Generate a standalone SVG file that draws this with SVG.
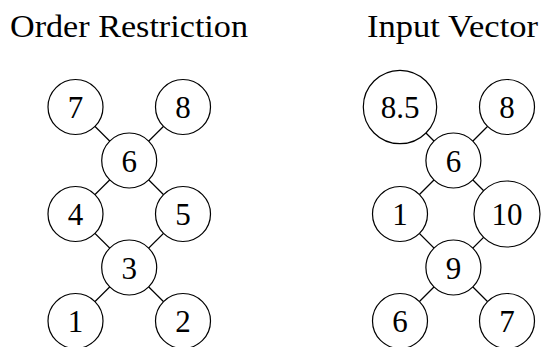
<svg xmlns="http://www.w3.org/2000/svg" width="543" height="347" viewBox="0 0 543 347">
  <style>
    .title { font-family: "Liberation Serif", "Times New Roman", serif; font-size: 32px; fill: #000; }
    .node circle { fill: #fff; stroke: #000; stroke-width: 1.2; }
    .node text { font-family: "Liberation Serif", "Times New Roman", serif; font-size: 31px; fill: #000; text-anchor: middle; }
    .edges line { stroke: #000; stroke-width: 1.2; }
  </style>
  <rect width="543" height="347" fill="#fff"/>

  <text class="title" x="10" y="37" textLength="238" lengthAdjust="spacingAndGlyphs">Order Restriction</text>
  <text class="title" x="367" y="37" textLength="171" lengthAdjust="spacingAndGlyphs">Input Vector</text>

  <!-- connectors drawn centre to centre; the white node fills hide the inner parts -->
  <g id="connectors" class="edges">
    <line x1="75.5" y1="107" x2="129.2" y2="160.5"/>
    <line x1="183" y1="107" x2="129.2" y2="160.5"/>
    <line x1="129.2" y1="160.5" x2="75.5" y2="214"/>
    <line x1="129.2" y1="160.5" x2="183" y2="214"/>
    <line x1="75.5" y1="214" x2="129.2" y2="267.5"/>
    <line x1="183" y1="214" x2="129.2" y2="267.5"/>
    <line x1="129.2" y1="267.5" x2="75.5" y2="321"/>
    <line x1="129.2" y1="267.5" x2="183" y2="321"/>

    <line x1="400" y1="107" x2="453.4" y2="160.5"/>
    <line x1="507" y1="107" x2="453.4" y2="160.5"/>
    <line x1="453.4" y1="160.5" x2="400" y2="214"/>
    <line x1="453.4" y1="160.5" x2="507" y2="214"/>
    <line x1="400" y1="214" x2="453.4" y2="267.5"/>
    <line x1="507" y1="214" x2="453.4" y2="267.5"/>
    <line x1="453.4" y1="267.5" x2="400" y2="321"/>
    <line x1="453.4" y1="267.5" x2="507" y2="321"/>
  </g>

  <!-- order restriction poset -->
  <g id="or7" class="node"><circle cx="75.5" cy="107" r="27.5"/><text x="75.5" y="118">7</text></g>
  <g id="or8" class="node"><circle cx="183" cy="107" r="27.5"/><text x="183" y="118">8</text></g>
  <g id="or6" class="node"><circle cx="129.2" cy="160.5" r="27.5"/><text x="129.2" y="171.5">6</text></g>
  <g id="or4" class="node"><circle cx="75.5" cy="214" r="27.5"/><text x="75.5" y="225">4</text></g>
  <g id="or5" class="node"><circle cx="183" cy="214" r="27.5"/><text x="183" y="225">5</text></g>
  <g id="or3" class="node"><circle cx="129.2" cy="267.5" r="27.5"/><text x="129.2" y="278.5">3</text></g>
  <g id="or1" class="node"><circle cx="75.5" cy="321" r="27.5"/><text x="75.5" y="332">1</text></g>
  <g id="or2" class="node"><circle cx="183" cy="321" r="27.5"/><text x="183" y="332">2</text></g>

  <!-- input vector values -->
  <g id="iv85" class="node"><circle cx="400" cy="107" r="36.7"/><text x="400" y="118">8.5</text></g>
  <g id="iv8" class="node"><circle cx="507" cy="107" r="27.5"/><text x="507" y="118">8</text></g>
  <g id="iv6a" class="node"><circle cx="453.4" cy="160.5" r="27.5"/><text x="453.4" y="171.5">6</text></g>
  <g id="iv1" class="node"><circle cx="400" cy="214" r="27.5"/><text x="400" y="225">1</text></g>
  <g id="iv10" class="node"><circle cx="507" cy="214" r="33"/><text x="507" y="225">10</text></g>
  <g id="iv9" class="node"><circle cx="453.4" cy="267.5" r="27.5"/><text x="453.4" y="278.5">9</text></g>
  <g id="iv6b" class="node"><circle cx="400" cy="321" r="27.5"/><text x="400" y="332">6</text></g>
  <g id="iv7" class="node"><circle cx="507" cy="321" r="27.5"/><text x="507" y="332">7</text></g>
</svg>
